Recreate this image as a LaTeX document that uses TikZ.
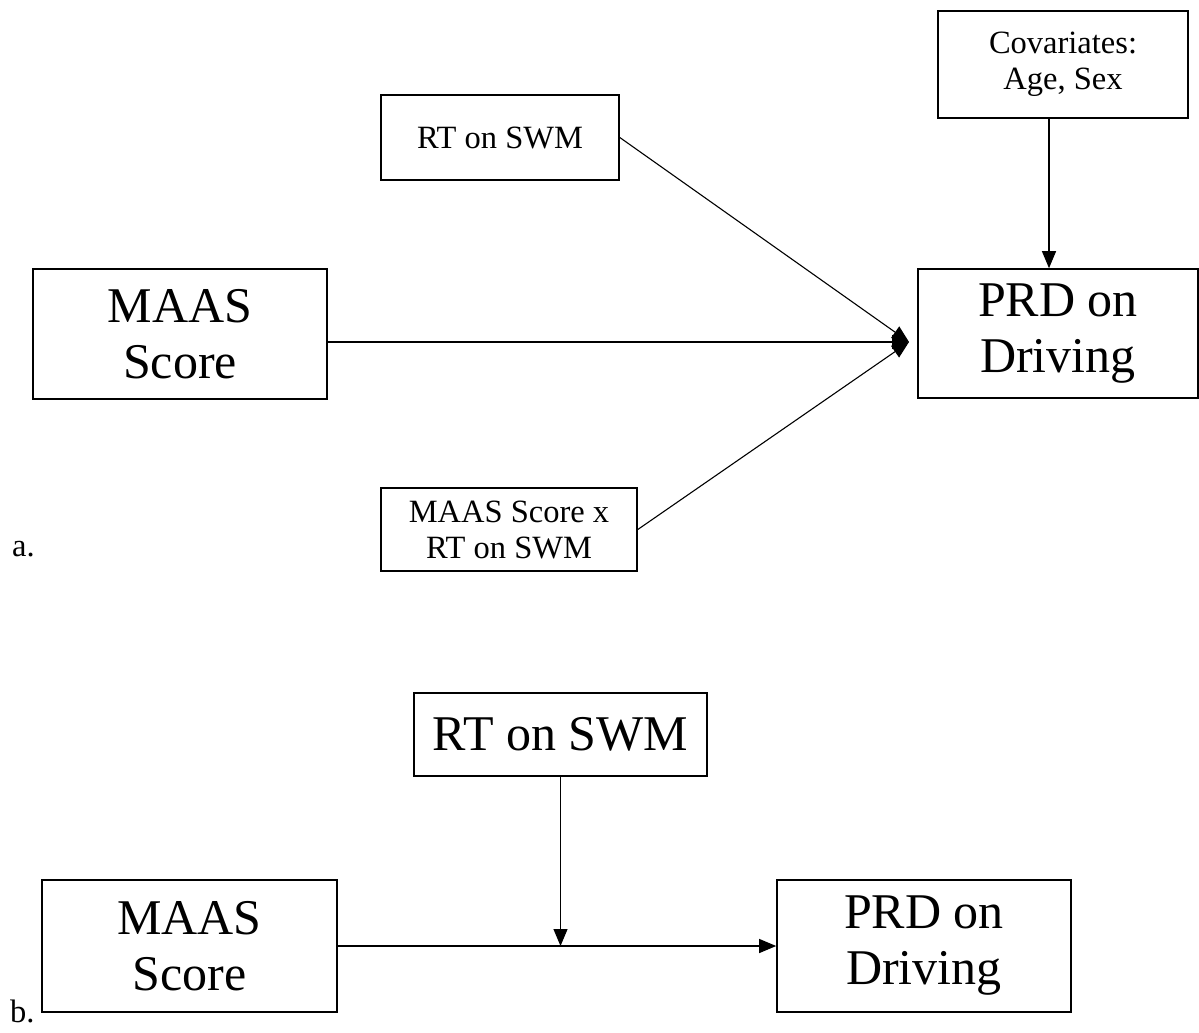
\documentclass[tikz,border=0pt]{standalone}
\usepackage{fontspec}
\setmainfont{Liberation Serif}
\usetikzlibrary{arrows.meta}
\begin{document}
\begin{tikzpicture}[x=1pt,y=-1pt,
  box/.style={draw, line width=1.6pt, align=center, inner sep=0pt},
  bigtxt/.style={font=\fontsize{50}{56}\selectfont},
  smalltxt/.style={font=\fontsize{32.5}{36}\selectfont},
  arr/.style={line width=1.1pt, -{Triangle[length=17pt,width=14pt]}},
  ln/.style={line width=1.1pt}]
\useasboundingbox (0,0) rectangle (1199,1033);
% part a
\node[box, smalltxt, minimum width=250pt, minimum height=107pt] (cov) at (1063,64.5) {Covariates:\\Age, Sex};
\node[box, smalltxt, minimum width=238pt, minimum height=85pt] (rt) at (500,137.5) {RT on SWM};
\node[box, bigtxt, minimum width=294pt, minimum height=130pt] (maas) at (180,334) {MAAS\\Score};
\node[box, bigtxt, minimum width=280pt, minimum height=129pt] (prd) at (1058,333.5) {PRD on\\Driving};
\node[box, smalltxt, minimum width=256pt, minimum height=83pt] (int) at (509,529.5) {MAAS Score x\\RT on SWM};
\node[smalltxt, anchor=base west, inner sep=0pt] (la) at (12,556) {a.};
\coordinate (tip) at (909,342);
\coordinate (arrx) at (1049,200);
\draw[arr] (rt.east) -- (tip);
\draw[arr] (maas.east |- tip) -- (tip);
\draw[arr] (int.east) -- (tip);
\draw[arr] (cov.south -| arrx) -- (prd.north -| arrx);
% part b
\node[box, bigtxt, minimum width=293pt, minimum height=83pt] (rtb) at (560.5,734.5) {RT on SWM};
\node[box, bigtxt, minimum width=295pt, minimum height=132pt] (maasb) at (189.5,946) {MAAS\\Score};
\node[box, bigtxt, minimum width=294pt, minimum height=132pt] (prdb) at (924,946) {PRD on\\Driving};
\node[smalltxt, anchor=base west, inner sep=0pt] (lb) at (10,1022) {b.};
\draw[arr] (maasb.east) -- (prdb.west);
\draw[arr] (rtb.south) -- (rtb.south |- maasb.east);
\end{tikzpicture}
\end{document}
